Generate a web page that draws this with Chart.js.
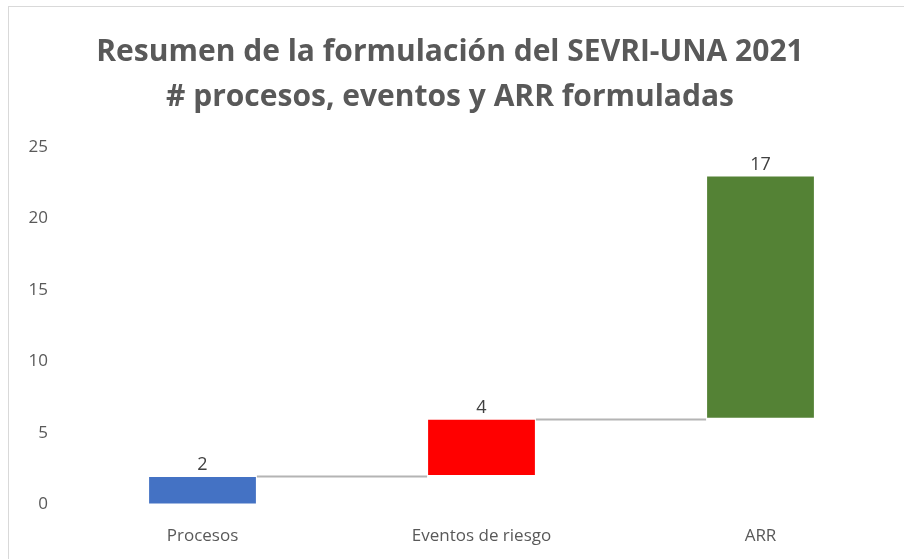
<!DOCTYPE html>
<html lang="es">
<head>
  <meta charset="UTF-8" />
  <title>Resumen SEVRI-UNA 2021</title>
  <style>
    html, body { margin: 0; padding: 0; background: #fff; }
    .marco {
      position: absolute;
      left: 8px; top: 6px;
      width: 904px; height: 559px;
      border-top: 1px solid #d9d9d9;
      border-left: 1px solid #d9d9d9;
    }
    .grafico {
      position: absolute;
      left: 0; top: 0;
      width: 904px; height: 559px;
    }
  </style>
</head>
<body>
  <div class="marco"></div>
  <div class="grafico"><canvas id="cascada"></canvas></div>

  <script src="https://cdn.jsdelivr.net/npm/chart.js"></script>
  <script>
    // datos de la cascada
    const categorias = ['Procesos', 'Eventos de riesgo', 'ARR'];
    const incrementos = [2, 4, 17];
    const inicios = [0, 2, 6];
    const colores = ['#4472C4', '#FF0000', '#548235'];
    const ticksY = [0, 5, 10, 15, 20, 25];

    const gris = '#595959';
    const fuente = "'Open Sans', 'Noto Sans', sans-serif";

    const barras = categorias.map((c, i) => [inicios[i], inicios[i] + incrementos[i]]);

    // lineas conectoras entre barras
    const conectores = {
      id: 'conectores',
      afterDatasetsDraw(chart) {
        const ctx = chart.ctx;
        const meta = chart.getDatasetMeta(0);
        const y = chart.scales.y;
        ctx.save();
        ctx.strokeStyle = '#b4b4b4';
        ctx.lineWidth = 2;
        for (let i = 0; i < meta.data.length - 1; i++) {
          const a = meta.data[i], b = meta.data[i + 1];
          const py = Math.round(y.getPixelForValue(barras[i][1])) + 0.5;
          ctx.beginPath();
          ctx.moveTo(a.x + a.width / 2, py);
          ctx.lineTo(b.x - b.width / 2, py);
          ctx.stroke();
        }
        ctx.restore();
      }
    };

    // etiquetas con el valor sobre cada barra
    const etiquetas = {
      id: 'etiquetas',
      afterDatasetsDraw(chart) {
        const ctx = chart.ctx;
        const meta = chart.getDatasetMeta(0);
        ctx.save();
        ctx.fillStyle = '#404040';
        ctx.font = "18px " + fuente;
        ctx.textAlign = 'center';
        ctx.textBaseline = 'bottom';
        meta.data.forEach((bar, i) => {
          ctx.fillText(String(incrementos[i]), bar.x, Math.min(bar.y, bar.base) - 2);
        });
        ctx.restore();
      }
    };

    new Chart(document.getElementById('cascada'), {
      type: 'bar',
      data: {
        labels: categorias,
        datasets: [{
          data: barras,
          backgroundColor: colores,
          borderColor: 'rgba(255,255,255,0.6)',
          borderWidth: 1,
          borderSkipped: false,
          categoryPercentage: 1,
          barPercentage: 0.39
        }]
      },
      options: {
        responsive: true,
        maintainAspectRatio: false,
        animation: false,
        layout: { padding: { left: 0, right: 4, top: 30, bottom: 0 } },
        plugins: {
          legend: { display: false },
          tooltip: { enabled: false },
          title: {
            display: true,
            text: ['Resumen de la formulación del SEVRI-UNA 2021', '# procesos, eventos y ARR formuladas'],
            color: gris,
            font: { family: fuente, size: 30, weight: 'bold', lineHeight: 1.5 },
            padding: { top: 0, bottom: 27 }
          }
        },
        scales: {
          x: {
            grid: { display: false },
            border: { display: false },
            ticks: { color: gris, font: { family: fuente, size: 17 }, padding: 13 }
          },
          y: {
            min: 0,
            max: 25,
            afterBuildTicks: s => { s.ticks = ticksY.map(v => ({ value: v })); },
            afterFit: s => { s.width = 63; },
            grid: { display: false },
            border: { display: false },
            ticks: { color: gris, font: { family: fuente, size: 17 }, padding: 7 }
          }
        }
      },
      plugins: [conectores, etiquetas]
    });
  </script>
</body>
</html>
